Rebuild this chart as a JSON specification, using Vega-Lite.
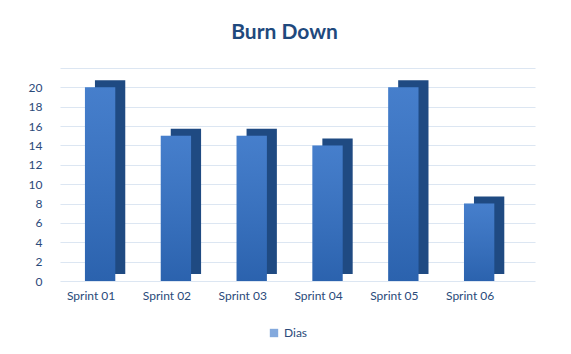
{
  "$schema": "https://vega.github.io/schema/vega-lite/v6.json",
  "autosize": {"type": "none"},
  "width": 475,
  "height": 213,
  "padding": {"left": 60, "top": 68, "right": 36, "bottom": 73},
  "background": "white",
  "title": {"text": "Burn Down", "font": "Lato", "fontSize": 21, "fontWeight": "bold", "color": "#1f497d", "anchor": "middle", "frame": "group", "dx": -13, "offset": 25},
  "data": {"values": [
    {"sprint": "Sprint 01", "dias": 20, "serie": "Dias"},
    {"sprint": "Sprint 02", "dias": 15, "serie": "Dias"},
    {"sprint": "Sprint 03", "dias": 15, "serie": "Dias"},
    {"sprint": "Sprint 04", "dias": 14, "serie": "Dias"},
    {"sprint": "Sprint 05", "dias": 20, "serie": "Dias"},
    {"sprint": "Sprint 06", "dias": 8, "serie": "Dias"}
  ]},
  "encoding": {
    "x": {"field": "sprint", "type": "nominal", "sort": null,
      "scale": {"paddingInner": 0.6, "paddingOuter": 0.433, "align": 0.38},
      "axis": {"title": null, "labelAngle": 0, "domain": false, "ticks": false, "labelPadding": 9, "labelOffset": -9, "labelFont": "Lato", "labelFontSize": 12, "labelColor": "#2a4a7a"}},
    "y": {"field": "dias", "type": "quantitative",
      "scale": {"domain": [0, 22], "nice": false},
      "axis": {"title": null, "values": [0,2,4,6,8,10,12,14,16,18,20,22], "labelExpr": "datum.value > 20 ? '' : datum.label", "domain": false, "ticks": false, "labelPadding": 18, "labelFont": "Lato", "labelFontSize": 12, "labelColor": "#2a4a7a", "gridColor": "#dce6f2", "gridWidth": 1.2}}
  },
  "layer": [
    {"mark": {"type": "bar", "xOffset": 10, "yOffset": -7, "fill": "#1f4a82"}},
    {"mark": {"type": "bar"},
     "encoding": {"color": {"field": "serie", "type": "nominal",
       "scale": {"range": ["#3170c6"]},
       "legend": {"title": null, "orient": "none", "legendX": 208, "legendY": 259, "symbolType": "square", "symbolSize": 70, "symbolOpacity": 0.6, "labelFont": "Lato", "labelFontSize": 12, "labelColor": "#2a4a7a", "symbolStrokeWidth": 0}}}},
    {"mark": {"type": "bar", "fill": {"gradient": "linear", "x1": 0, "y1": 0, "x2": 0, "y2": 1, "stops": [{"offset": 0, "color": "rgba(255,255,255,0.10)"}, {"offset": 1, "color": "rgba(0,0,0,0.12)"}]}}}
  ],
  "config": {"view": {"stroke": null}}
}
